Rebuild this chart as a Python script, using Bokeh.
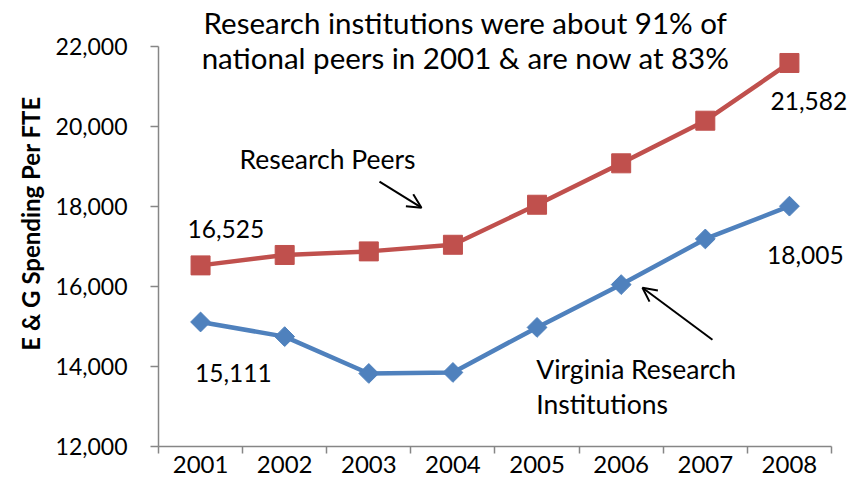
import numpy as np
from bokeh.plotting import figure
from bokeh.models import (Range1d, FixedTicker, NumeralTickFormatter, LinearAxis,
                          Label, Arrow, OpenHead, ColumnDataSource)
from bokeh.embed import file_html
from bokeh.resources import INLINE

years = ["2001", "2002", "2003", "2004", "2005", "2006", "2007", "2008"]
peers = [16525, 16785, 16875, 17040, 18040, 19075, 20140, 21582]
virginia = [15111, 14745, 13825, 13850, 14975, 16045, 17185, 18005]
y_ticks = [12000, 14000, 16000, 18000, 20000, 22000]

RED = "#C0504D"
BLUE = "#4F81BD"
FONT = "Lato"
AXIS_GRAY = "#868686"

x_idx = list(range(len(years)))
src = ColumnDataSource(data=dict(x=x_idx, peers=peers, virginia=virginia))

# frame spans the full canvas top/right so that the annotations are not clipped;
# the axes themselves are bounded to the data region
p = figure(width=849, height=477, output_backend="svg", toolbar_location=None,
           x_range=Range1d(-0.5, 7.714), y_range=Range1d(12000, 23143),
           x_axis_type=None, y_axis_type=None,
           min_border_left=158, min_border_right=0, min_border_top=0, min_border_bottom=31)
p.outline_line_color = None
p.xgrid.visible = False
p.ygrid.visible = False
p.background_fill_color = "white"
p.border_fill_color = "white"

# y axis
yaxis = LinearAxis(ticker=FixedTicker(ticks=y_ticks),
                   formatter=NumeralTickFormatter(format="0,0"),
                   axis_label="E & G Spending Per FTE", bounds=(12000, 22000))
yaxis.axis_line_color = AXIS_GRAY
yaxis.axis_line_width = 1.5
yaxis.major_tick_line_color = AXIS_GRAY
yaxis.major_tick_line_width = 1.5
yaxis.major_tick_out = 8
yaxis.major_tick_in = 0
yaxis.minor_tick_line_color = None
yaxis.major_label_text_font = FONT
yaxis.major_label_text_font_size = "23px"
yaxis.major_label_text_color = "black"
yaxis.major_label_standoff = 23
yaxis.axis_label_text_font = FONT
yaxis.axis_label_text_font_style = "bold"
yaxis.axis_label_text_font_size = "24px"
yaxis.axis_label_text_color = "black"
yaxis.axis_label_standoff = 8
p.add_layout(yaxis, "left")

# x axis: labels at category centres, tick marks at boundaries
xaxis = LinearAxis(ticker=FixedTicker(ticks=x_idx,
                                      minor_ticks=[i - 0.5 for i in range(len(years) + 1)]),
                   bounds=(-0.5, len(years) - 0.5))
xaxis.major_label_overrides = {i: y for i, y in zip(x_idx, years)}
xaxis.axis_line_color = AXIS_GRAY
xaxis.axis_line_width = 1.5
xaxis.major_tick_line_color = None
xaxis.major_tick_out = 0
xaxis.major_tick_in = 0
xaxis.minor_tick_line_color = AXIS_GRAY
xaxis.minor_tick_line_width = 1.5
xaxis.minor_tick_out = 7
xaxis.minor_tick_in = 0
xaxis.major_label_text_font = FONT
xaxis.major_label_text_font_size = "24px"
xaxis.major_label_text_color = "black"
xaxis.major_label_standoff = 2
p.add_layout(xaxis, "below")

# series
p.line("x", "peers", source=src, line_color=RED, line_width=4.5)
p.scatter("x", "peers", source=src, marker="square", size=19,
          fill_color=RED, line_color=RED)
p.line("x", "virginia", source=src, line_color=BLUE, line_width=4.5)
p.scatter("x", "virginia", source=src, marker="square", angle=np.pi / 4, size=14,
          fill_color=BLUE, line_color=BLUE)

def lab(x, y, text, size="24.5px", align="center"):
    p.add_layout(Label(x=x, y=y, text=text, text_font=FONT, text_font_size=size,
                       text_color="black", text_align=align, text_baseline="middle"))

# data labels
lab(0.30, 17443, f"{peers[0]:,}")
lab(0.39, 13843, f"{virginia[0]:,}")
lab(7.23, 20642, f"{peers[-1]:,}")
lab(7.19, 16793, f"{virginia[-1]:,}")

# title
lab(3.15, 22593, "Research institutions were about 91% of", size="29.5px")
lab(3.15, 21718, "national peers in 2001 & are now at 83%", size="29.5px")

# annotations
lab(1.51, 19192, "Research Peers", size="26.5px")
lab(3.99, 13942, "Virginia Research", size="26.5px", align="left")
lab(3.99, 13067, "Institutions", size="26.5px", align="left")

p.add_layout(Arrow(end=OpenHead(size=14, line_width=2, line_color="black"),
                   x_start=2.127, y_start=18617, x_end=2.626, y_end=17967,
                   line_width=2, line_color="black"))
p.add_layout(Arrow(end=OpenHead(size=14, line_width=2, line_color="black"),
                   x_start=6.085, y_start=14668, x_end=5.253, y_end=15968,
                   line_width=2, line_color="black"))

open("out.html", "w").write(file_html(p, INLINE))
